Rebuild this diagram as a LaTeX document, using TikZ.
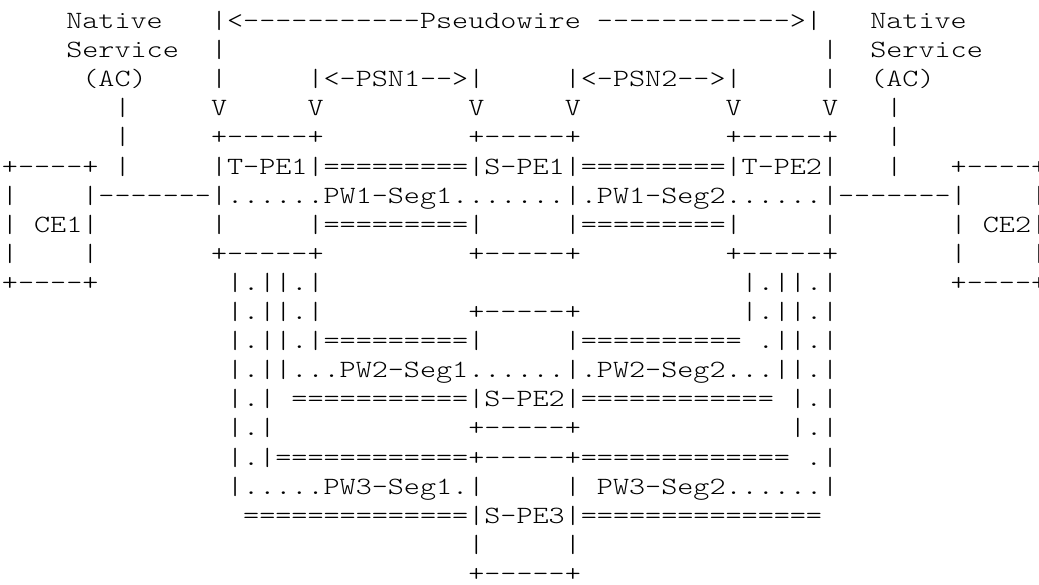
\documentclass[tikz,border=0pt]{standalone}
\usepackage{fontspec}
\setmonofont{Latin Modern Mono Light}[FakeStretch=1.235]

\begin{document}
\begin{tikzpicture}[x=8.04pt,y=-14.55pt,
		txt/.style={anchor=base west,inner sep=0pt,outer sep=0pt,font=\ttfamily\fontsize{12.4}{18}\selectfont}]
				\useasboundingbox (-1pt,-0.3pt) rectangle (518.5pt,-292.3pt);
				
				% top labels
				\node[txt] (n1a) at (4,1) {Native};
				\node[txt] (n1b) at (13,1) {|<-----------Pseudowire~------------>|};
				\node[txt] (n1c) at (54,1) {Native};
				\node[txt] (n2a) at (4,2) {Service};
				\node[txt] (n2b) at (13,2) {|};
				\node[txt] (n2c) at (51,2) {|};
				\node[txt] (n2d) at (54,2) {Service};
				\node[txt] (n3a) at (5,3) {(AC)};
				\node[txt] (n3b) at (13,3) {|};
				\node[txt] (n3c) at (19,3) {|<-PSN1-->|};
				\node[txt] (n3d) at (35,3) {|<-PSN2-->|};
				\node[txt] (n3e) at (51,3) {|};
				\node[txt] (n3f) at (54,3) {(AC)};
				\node[txt] (n4a) at (7,4) {|};
				\node[txt] (n4b) at (13,4) {V};
				\node[txt] (n4c) at (19,4) {V};
				\node[txt] (n4d) at (29,4) {V};
				\node[txt] (n4e) at (35,4) {V};
				\node[txt] (n4f) at (45,4) {V};
				\node[txt] (n4g) at (51,4) {V};
				\node[txt] (n4h) at (55,4) {|};
				
				% PW1
				\node[txt] (n5a) at (7,5) {|};
				\node[txt] (n5b) at (13,5) {+-----+};
				\node[txt] (n5c) at (29,5) {+-----+};
				\node[txt] (n5d) at (45,5) {+-----+};
				\node[txt] (n5e) at (55,5) {|};
				\node[txt] (n6a) at (0,6) {+----+};
				\node[txt] (n6b) at (7,6) {|};
				\node[txt] (n6c) at (13,6) {|T-PE1|=========|S-PE1|=========|T-PE2|};
				\node[txt] (n6d) at (55,6) {|};
				\node[txt] (n6e) at (59,6) {+----+};
				\node[txt] (n7a) at (0,7) {|};
				\node[txt] (n7b) at (5,7) {|-------|......PW1-Seg1.......|.PW1-Seg2......|-------|};
				\node[txt] (n7c) at (64,7) {|};
				\node[txt] (n8a) at (0,8) {|~CE1|};
				\node[txt] (n8b) at (13,8) {|};
				\node[txt] (n8c) at (19,8) {|=========|};
				\node[txt] (n8d) at (35,8) {|=========|};
				\node[txt] (n8e) at (51,8) {|};
				\node[txt] (n8f) at (59,8) {|~CE2|};
				\node[txt] (n9a) at (0,9) {|};
				\node[txt] (n9b) at (5,9) {|};
				\node[txt] (n9c) at (13,9) {+-----+};
				\node[txt] (n9d) at (29,9) {+-----+};
				\node[txt] (n9e) at (45,9) {+-----+};
				\node[txt] (n9f) at (59,9) {|};
				\node[txt] (n9g) at (64,9) {|};
				\node[txt] (n10a) at (0,10) {+----+};
				\node[txt] (n10b) at (14,10) {|.||.|};
				\node[txt] (n10c) at (46,10) {|.||.|};
				\node[txt] (n10d) at (59,10) {+----+};
				
				% PW2
				\node[txt] (n11a) at (14,11) {|.||.|};
				\node[txt] (n11b) at (29,11) {+-----+};
				\node[txt] (n11c) at (46,11) {|.||.|};
				\node[txt] (n12a) at (14,12) {|.||.|=========|};
				\node[txt] (n12b) at (35,12) {|==========~.||.|};
				\node[txt] (n13a) at (14,13) {|.||...PW2-Seg1......|.PW2-Seg2...||.|};
				\node[txt] (n14a) at (14,14) {|.|~===========|S-PE2|============~|.|};
				\node[txt] (n15a) at (14,15) {|.|};
				\node[txt] (n15b) at (29,15) {+-----+};
				\node[txt] (n15c) at (49,15) {|.|};
				
				% PW3
				\node[txt] (n16a) at (14,16) {|.|============+-----+=============~.|};
				\node[txt] (n17a) at (14,17) {|.....PW3-Seg1.|};
				\node[txt] (n17b) at (35,17) {|~PW3-Seg2......|};
				\node[txt] (n18a) at (15,18) {==============|S-PE3|===============};
				\node[txt] (n19a) at (29,19) {|};
				\node[txt] (n19b) at (35,19) {|};
				\node[txt] (n20a) at (29,20) {+-----+};
			\end{tikzpicture}
\end{document}
